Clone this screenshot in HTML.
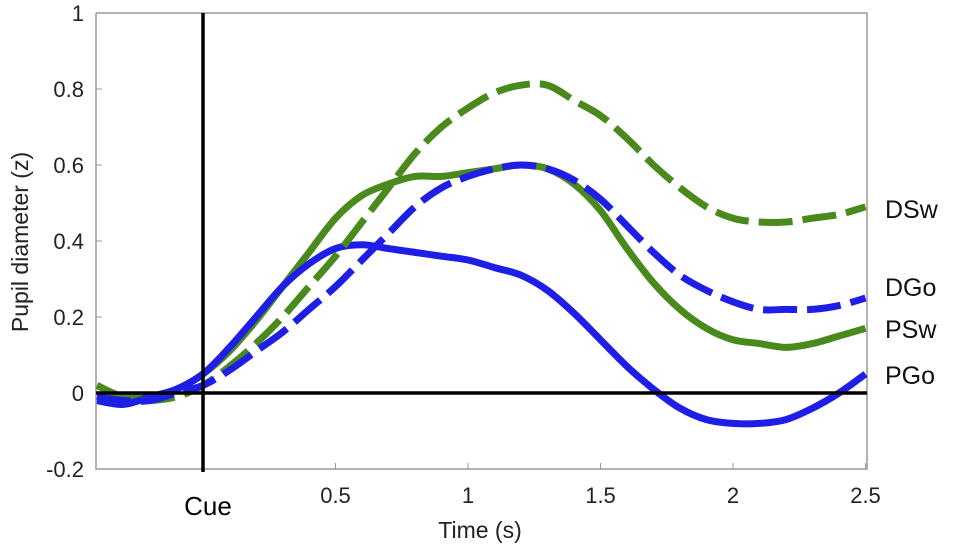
<!DOCTYPE html>
<html><head><meta charset="utf-8"><style>
body{margin:0;background:#fff;}
svg text{font-family:"Liberation Sans",sans-serif;}
</style></head><body>
<svg id="chart" width="955" height="552" viewBox="0 0 955 552" xmlns="http://www.w3.org/2000/svg">
<g id="axes"></g><g id="series"></g><g id="labels"></g>
</svg>
<script>
const times=[-0.4,-0.3,-0.2,-0.1,0,0.1,0.2,0.3,0.4,0.5,0.6,0.7,0.8,0.9,1.0,1.1,1.2,1.3,1.4,1.5,1.6,1.7,1.8,1.9,2.0,2.1,2.2,2.3,2.4,2.5];
const pGo=[-0.02,-0.03,-0.01,0.01,0.05,0.12,0.2,0.28,0.34,0.38,0.39,0.38,0.37,0.36,0.35,0.33,0.31,0.27,0.21,0.14,0.07,0.01,-0.04,-0.07,-0.08,-0.08,-0.07,-0.04,0.0,0.05];
const pSw=[0.02,-0.01,-0.01,0.01,0.05,0.11,0.19,0.28,0.37,0.46,0.52,0.55,0.57,0.57,0.58,0.59,0.6,0.59,0.55,0.48,0.38,0.29,0.22,0.17,0.14,0.13,0.12,0.13,0.15,0.17];
const dGo=[-0.01,-0.02,-0.02,0.0,0.02,0.06,0.11,0.16,0.22,0.28,0.35,0.42,0.49,0.54,0.57,0.59,0.6,0.59,0.56,0.51,0.44,0.37,0.31,0.27,0.24,0.22,0.22,0.22,0.23,0.25];
const dSw=[-0.01,-0.02,-0.02,-0.01,0.02,0.07,0.13,0.2,0.28,0.36,0.45,0.54,0.63,0.7,0.75,0.79,0.81,0.81,0.77,0.73,0.67,0.6,0.54,0.49,0.46,0.45,0.45,0.46,0.47,0.49];
const yTicks=[-0.2,0,0.2,0.4,0.6,0.8,1];
const yTickLabels=["-0.2","0","0.2","0.4","0.6","0.8","1"];
const xTicks=[0.5,1,1.5,2,2.5];
const xTickLabels=["0.5","1","1.5","2","2.5"];

const X=t=>203+t*265;
const Y=v=>393-v*380;
const NS="http://www.w3.org/2000/svg";
function mk(tag,attrs,parent,txt){const e=document.createElementNS(NS,tag);for(const k in attrs)e.setAttribute(k,attrs[k]);if(txt!==undefined)e.textContent=txt;parent.appendChild(e);return e;}
const axes=document.getElementById('axes'),series=document.getElementById('series'),labels=document.getElementById('labels');
const L=96,R=867,T=13,B=469;
let box=mk('path',{d:`M${L},${T}V${B}H${R}V${T}H${L}`,fill:'none',stroke:'#999','stroke-width':1.5},axes);


yTicks.forEach((v,i)=>{
 let tk=mk('line',{x1:L,x2:L+6,y1:Y(v),y2:Y(v),stroke:'#999'},axes);
 
 
 let t=mk('text',{x:84,y:Y(v)+8,'text-anchor':'end','font-size':22,fill:'#222'},axes,yTickLabels[i]);
 
 
});
xTicks.forEach((v,i)=>{
 let tk=mk('line',{x1:X(v),x2:X(v),y1:B,y2:B-6,stroke:'#999'},axes);
 
 
 let t=mk('text',{x:X(v),y:503,'text-anchor':'middle','font-size':22,fill:'#222'},axes,xTickLabels[i]);
 
 
});
function smooth(arr){
 const p=arr.map((v,i)=>[X(times[i]),Y(v)]);
 let d='M'+p[0][0]+','+p[0][1];
 for(let i=0;i<p.length-1;i++){
  const p0=p[Math.max(0,i-1)],p1=p[i],p2=p[i+1],p3=p[Math.min(p.length-1,i+2)];
  const c1=[p1[0]+(p2[0]-p0[0])/6,p1[1]+(p2[1]-p0[1])/6];
  const c2=[p2[0]-(p3[0]-p1[0])/6,p2[1]-(p3[1]-p1[1])/6];
  d+=` C${c1[0].toFixed(1)},${c1[1].toFixed(1)} ${c2[0].toFixed(1)},${c2[1].toFixed(1)} ${p2[0].toFixed(1)},${p2[1].toFixed(1)}`;
 }
 return d;
}
const G='#4a8a1c',Bl='#1e1ee6';
const defs=[[pSw,G,null,'series-psw'],[pGo,Bl,null,'series-pgo'],[dSw,G,'34 10','series-dsw'],[dGo,Bl,'34 10','series-dgo']];
defs.forEach(d=>{
 const a={d:smooth(d[0]),fill:'none',stroke:d[1],'stroke-width':7,'stroke-linejoin':'round'};
 if(d[2])a['stroke-dasharray']=d[2];
 let p=mk('path',a,series);
 
 
});
let z=mk('line',{x1:L,x2:R,y1:Y(0),y2:Y(0),stroke:'#000','stroke-width':3.5},series);


let c=mk('line',{x1:X(0),x2:X(0),y1:T,y2:472,stroke:'#000','stroke-width':3.5},series);


const lab=[['DSw',218,'label-dsw'],['DGo',296,'label-dgo'],['PSw',338,'label-psw'],['PGo',384,'label-pgo']];
lab.forEach(l=>{
 let t=mk('text',{x:885,y:l[1],'font-size':25,fill:'#111'},labels,l[0]);
 
 
});
let cue=mk('text',{x:208,y:515,'text-anchor':'middle','font-size':26,fill:'#000'},labels,'Cue');


let xt=mk('text',{x:480,y:538,'text-anchor':'middle','font-size':23,fill:'#222'},labels,'Time (s)');


let yt=mk('text',{x:0,y:0,'text-anchor':'middle','font-size':23,fill:'#222',transform:'translate(28,242) rotate(-90)'},labels,'Pupil diameter (z)');


</script>
</body></html>
